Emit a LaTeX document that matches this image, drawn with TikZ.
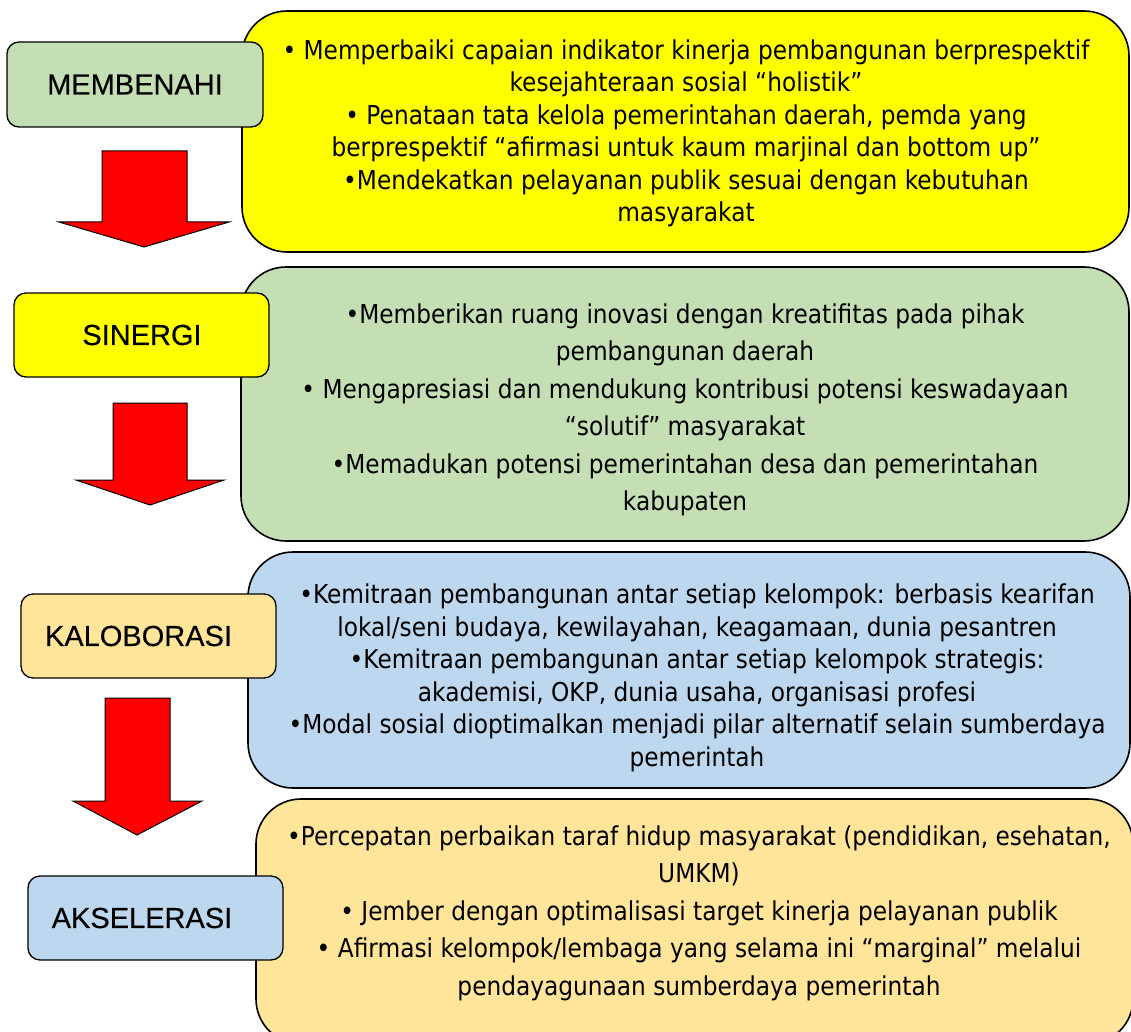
\documentclass[tikz,border=0pt]{standalone}
\usepackage{fontspec}
\setmainfont[FakeStretch=0.895]{DejaVu Sans}
\newfontfamily\labelfont[FakeBold=0.4]{Liberation Sans}
\definecolor{cgreen}{HTML}{C4DFB4}
\definecolor{cyellow}{HTML}{FFFF00}
\definecolor{cblue}{HTML}{BDD7EE}
\definecolor{ctan}{HTML}{FFE599}
\definecolor{cred}{HTML}{FF0000}
\tikzset{
  bigbox/.style={draw=black, line width=1.6pt, rounded corners=45pt},
  lblbox/.style={draw=black, line width=1.3pt, rounded corners=12pt},
  lbltext/.style={font=\labelfont\fontsize{29}{32}\selectfont, inner sep=0pt},
  bodytext/.style={font=\fontsize{26}{32.5}\selectfont, align=center, inner sep=0pt},
  bodytextw/.style={font=\fontsize{26}{37.5}\selectfont, align=center, inner sep=0pt},
  downarrow/.style={draw=black, line width=1pt, fill=cred, line join=miter},
}
\begin{document}
\begin{tikzpicture}[x=1pt,y=-1pt]
\useasboundingbox (0,0) rectangle (1131,1032);
\begin{scope}
\clip (0,0) rectangle (1131,1032);
% big boxes
\draw[bigbox, fill=cyellow] (242,11) rectangle (1129,252);
\coordinate (b1) at (685.5,131.5);
\draw[bigbox, fill=cgreen] (241,267) rectangle (1129,541);
\coordinate (b2) at (685,404);
\draw[bigbox, fill=cblue] (248,552) rectangle (1130,788);
\coordinate (b3) at (689,670);
\draw[bigbox, fill=ctan] (256,799) rectangle (1133,1044);
\coordinate (b4) at (693,911);
\end{scope}
% body texts
\node[bodytext] (t1) at (686,133.5) {• Memperbaiki capaian indikator kinerja pembangunan berprespektif\\
kesejahteraan sosial “holistik”\\
• Penataan tata kelola pemerintahan daerah, pemda yang\\
berprespektif “afirmasi untuk kaum marjinal dan bottom up”\\
•Mendekatkan pelayanan publik sesuai dengan kebutuhan\\
masyarakat};
\node[bodytextw] (t2) at (685,410) {•Memberikan ruang inovasi dengan kreatifitas pada pihak\\
pembangunan daerah\\
• Mengapresiasi dan mendukung kontribusi potensi keswadayaan\\
“solutif” masyarakat\\
•Memadukan potensi pemerintahan desa dan pemerintahan\\
kabupaten};
\node[bodytext] (t3) at (697,678) {•Kemitraan pembangunan antar setiap kelompok: berbasis kearifan\\
lokal/seni budaya, kewilayahan, keagamaan, dunia pesantren\\
•Kemitraan pembangunan antar setiap kelompok strategis:\\
akademisi, OKP, dunia usaha, organisasi profesi\\
•Modal sosial dioptimalkan menjadi pilar alternatif selain sumberdaya\\
pemerintah};
\node[bodytextw] (t4) at (699,913) {•Percepatan perbaikan taraf hidup masyarakat (pendidikan, esehatan,\\
UMKM)\\
• Jember dengan optimalisasi target kinerja pelayanan publik\\
• Afirmasi kelompok/lembaga yang selama ini “marginal” melalui\\
pendayagunaan sumberdaya pemerintah};
% label boxes
\draw[lblbox, fill=cgreen] (7,42) rectangle (263,127);
\node[lbltext] (l1) at (135,84.5) {MEMBENAHI};
\draw[lblbox, fill=cyellow] (14,293) rectangle (269,377);
\node[lbltext] (l2) at (142,335) {SINERGI};
\draw[lblbox, fill=ctan] (21,594) rectangle (276,678);
\node[lbltext] (l3) at (138.5,636) {KALOBORASI};
\draw[lblbox, fill=cblue] (28,876) rectangle (283,960);
\node[lbltext] (l4) at (142,918) {AKSELERASI};
% arrows
\draw[downarrow] (102,151) -- (187,151) -- (187,222) -- (229,222) -- (144,247) -- (59,222) -- (102,222) -- cycle;
\draw[downarrow] (113,403) -- (187,403) -- (187,480) -- (224,480) -- (150,505) -- (76,480) -- (113,480) -- cycle;
\draw[downarrow] (105,698) -- (170,698) -- (170,801) -- (202,801) -- (137,835) -- (73,801) -- (105,801) -- cycle;
\end{tikzpicture}
\end{document}
